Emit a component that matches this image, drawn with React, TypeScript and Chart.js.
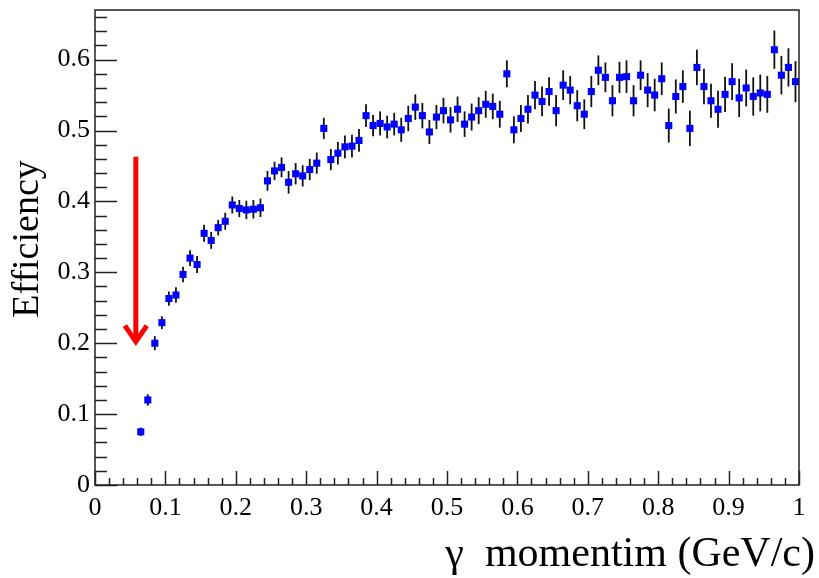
import React, { useEffect, useRef } from 'react';
import { Chart, registerables } from 'chart.js';

Chart.register(...registerables);

// γ momentum bin centres (GeV/c)
const MOMENTUM = [
  0.065, 0.075, 0.085, 0.095, 0.105, 0.115, 0.125, 0.135, 0.145, 0.155,
  0.165, 0.175, 0.185, 0.195, 0.205, 0.215, 0.225, 0.235, 0.245, 0.255,
  0.265, 0.275, 0.285, 0.295, 0.305, 0.315, 0.325, 0.335, 0.345, 0.355,
  0.365, 0.375, 0.385, 0.395, 0.405, 0.415, 0.425, 0.435, 0.445, 0.455,
  0.465, 0.475, 0.485, 0.495, 0.505, 0.515, 0.525, 0.535, 0.545, 0.555,
  0.565, 0.575, 0.585, 0.595, 0.605, 0.615, 0.625, 0.635, 0.645, 0.655,
  0.665, 0.675, 0.685, 0.695, 0.705, 0.715, 0.725, 0.735, 0.745, 0.755,
  0.765, 0.775, 0.785, 0.795, 0.805, 0.815, 0.825, 0.835, 0.845, 0.855,
  0.865, 0.875, 0.885, 0.895, 0.905, 0.915, 0.925, 0.935, 0.945, 0.955,
  0.965, 0.975, 0.985, 0.995,
];

const EFFICIENCY = [
  0.075, 0.120, 0.200, 0.229, 0.263, 0.268, 0.297, 0.320, 0.311, 0.355,
  0.345, 0.363, 0.372, 0.395, 0.390, 0.388, 0.389, 0.391, 0.429, 0.443,
  0.448, 0.427, 0.439, 0.436, 0.445, 0.454, 0.503, 0.459, 0.468, 0.477,
  0.478, 0.486, 0.521, 0.507, 0.510, 0.505, 0.509, 0.501, 0.517, 0.533,
  0.521, 0.498, 0.519, 0.528, 0.515, 0.530, 0.509, 0.519, 0.528, 0.537,
  0.534, 0.523, 0.580, 0.501, 0.517, 0.530, 0.550, 0.541, 0.555, 0.528,
  0.564, 0.557, 0.535, 0.523, 0.555, 0.585, 0.575, 0.542, 0.575, 0.576,
  0.542, 0.578, 0.557, 0.550, 0.573, 0.507, 0.548, 0.562, 0.503, 0.589,
  0.562, 0.542, 0.530, 0.551, 0.569, 0.546, 0.560, 0.548, 0.553, 0.551,
  0.614, 0.578, 0.589, 0.569,
];

const ERROR = [
  0.006, 0.008, 0.010, 0.009, 0.010, 0.011, 0.011, 0.011, 0.012, 0.012,
  0.012, 0.011, 0.012, 0.012, 0.012, 0.013, 0.013, 0.013, 0.014, 0.013,
  0.014, 0.016, 0.015, 0.015, 0.015, 0.015, 0.015, 0.015, 0.016, 0.016,
  0.016, 0.016, 0.016, 0.015, 0.017, 0.016, 0.016, 0.017, 0.018, 0.018,
  0.018, 0.017, 0.017, 0.018, 0.018, 0.018, 0.018, 0.019, 0.019, 0.019,
  0.018, 0.019, 0.019, 0.019, 0.019, 0.020, 0.020, 0.021, 0.020, 0.022,
  0.021, 0.020, 0.022, 0.021, 0.022, 0.021, 0.021, 0.022, 0.022, 0.023,
  0.022, 0.021, 0.024, 0.023, 0.023, 0.024, 0.024, 0.023, 0.025, 0.025,
  0.025, 0.024, 0.026, 0.025, 0.026, 0.027, 0.026, 0.027, 0.026, 0.026,
  0.027, 0.027, 0.027, 0.029,
];

const X_TITLE = 'γ  momentim (GeV/c)';
const Y_TITLE = 'Efficiency';

// red arrow annotation, in data units
const ARROW_X = 0.058;
const ARROW_TOP = 0.463;
const ARROW_TIP = 0.198;

const SERIF = '"Liberation Serif", "Times New Roman", serif';

const fmt = (v: number) => String(Number(Number(v).toFixed(2)));

const errorBars = {
  id: 'errorBars',
  beforeDatasetsDraw(chart: any) {
    const { ctx, scales } = chart;
    const x = scales.x;
    const y = scales.y;
    ctx.save();
    ctx.strokeStyle = '#111';
    ctx.lineWidth = 1.8;
    MOMENTUM.forEach((m, i) => {
      const px = x.getPixelForValue(m);
      ctx.beginPath();
      ctx.moveTo(px, y.getPixelForValue(EFFICIENCY[i] - ERROR[i]));
      ctx.lineTo(px, y.getPixelForValue(EFFICIENCY[i] + ERROR[i]));
      ctx.stroke();
    });
    ctx.restore();
  },
};

const arrow = {
  id: 'arrow',
  afterDatasetsDraw(chart: any) {
    const { ctx, scales } = chart;
    const px = scales.x.getPixelForValue(ARROW_X);
    const top = scales.y.getPixelForValue(ARROW_TOP);
    const tip = scales.y.getPixelForValue(ARROW_TIP);
    ctx.save();
    ctx.strokeStyle = '#ff0000';
    ctx.lineWidth = 5;
    ctx.lineJoin = 'miter';
    ctx.beginPath();
    ctx.moveTo(px, top);
    ctx.lineTo(px, tip - 3);
    ctx.stroke();
    ctx.beginPath();
    ctx.moveTo(px - 11, tip - 19);
    ctx.lineTo(px, tip - 3);
    ctx.lineTo(px + 11, tip - 19);
    ctx.stroke();
    ctx.restore();
  },
};

const frame = {
  id: 'frame',
  afterDraw(chart: any) {
    const { ctx, chartArea, scales } = chart;
    const { left, right, top, bottom } = chartArea;
    const x = scales.x;
    const y = scales.y;
    ctx.save();
    ctx.strokeStyle = '#222';
    ctx.lineWidth = 1.5;
    ctx.strokeRect(left, top, right - left, bottom - top);
    ctx.beginPath();
    for (let i = 0; i * 0.02 <= y.max + 1e-9; i++) {
      const py = Math.round(y.getPixelForValue(i * 0.02)) + 0.5;
      if (py < top + 1) continue;
      const len = i % 5 === 0 ? 22 : 12;
      ctx.moveTo(left, py);
      ctx.lineTo(left + len, py);
    }
    for (let i = 0; i * 0.02 <= x.max + 1e-9; i++) {
      const px = Math.round(x.getPixelForValue(i * 0.02)) + 0.5;
      const len = i % 5 === 0 ? 14 : 7;
      ctx.moveTo(px, bottom);
      ctx.lineTo(px, bottom - len);
    }
    ctx.stroke();

    // axis titles
    ctx.fillStyle = '#000';
    ctx.font = `42px ${SERIF}`;
    ctx.textAlign = 'right';
    ctx.textBaseline = 'alphabetic';
    ctx.fillText(X_TITLE, 815, 566);

    ctx.font = `38px ${SERIF}`;
    ctx.translate(38, 239);
    ctx.rotate(-Math.PI / 2);
    ctx.textAlign = 'center';
    ctx.fillText(Y_TITLE, 0, 0);
    ctx.restore();
  },
};

export default function App() {
  const ref = useRef<HTMLCanvasElement | null>(null);

  useEffect(() => {
    document.body.style.margin = '0';
    const canvas = ref.current;
    if (!canvas) return;
    const chart = new Chart(canvas, {
      type: 'scatter',
      data: {
        datasets: [
          {
            label: 'Efficiency',
            data: MOMENTUM.map((m, i) => ({ x: m, y: EFFICIENCY[i] })),
            pointStyle: 'rect',
            pointRadius: 5,
            pointBackgroundColor: '#0000ff',
            pointBorderColor: '#0000ff',
            pointBorderWidth: 0,
            showLine: false,
          },
        ],
      },
      options: {
        animation: false,
        responsive: false,
        devicePixelRatio: 1,
        layout: { padding: { left: 0, right: 20, top: 10, bottom: 0 } },
        plugins: {
          legend: { display: false },
          tooltip: { enabled: false },
        },
        scales: {
          x: {
            type: 'linear',
            min: 0,
            max: 1,
            border: { display: false },
            grid: { display: false, drawTicks: false },
            ticks: {
              stepSize: 0.1,
              padding: 8,
              maxRotation: 0,
              autoSkip: false,
              color: '#000',
              font: { family: SERIF, size: 26 },
              callback: (v: any) => fmt(v),
            },
            afterFit: (s: any) => {
              s.height = 93;
              s.paddingLeft = 0;
              s.paddingRight = 0;
            },
          },
          y: {
            type: 'linear',
            min: 0,
            max: 0.67,
            border: { display: false },
            grid: { display: false, drawTicks: false },
            ticks: {
              stepSize: 0.1,
              includeBounds: false,
              padding: 5,
              color: '#000',
              font: { family: SERIF, size: 26 },
              callback: (v: any) => fmt(v),
            },
            afterFit: (s: any) => {
              s.width = 95;
              s.paddingTop = 0;
              s.paddingBottom = 0;
            },
          },
        },
      },
      plugins: [errorBars, arrow, frame],
    });
    return () => chart.destroy();
  }, []);

  return (
    <div style={{ position: 'absolute', left: 0, top: 0, width: 819, height: 578, background: '#fff' }}>
      <canvas ref={ref} width={819} height={578} />
    </div>
  );
}
